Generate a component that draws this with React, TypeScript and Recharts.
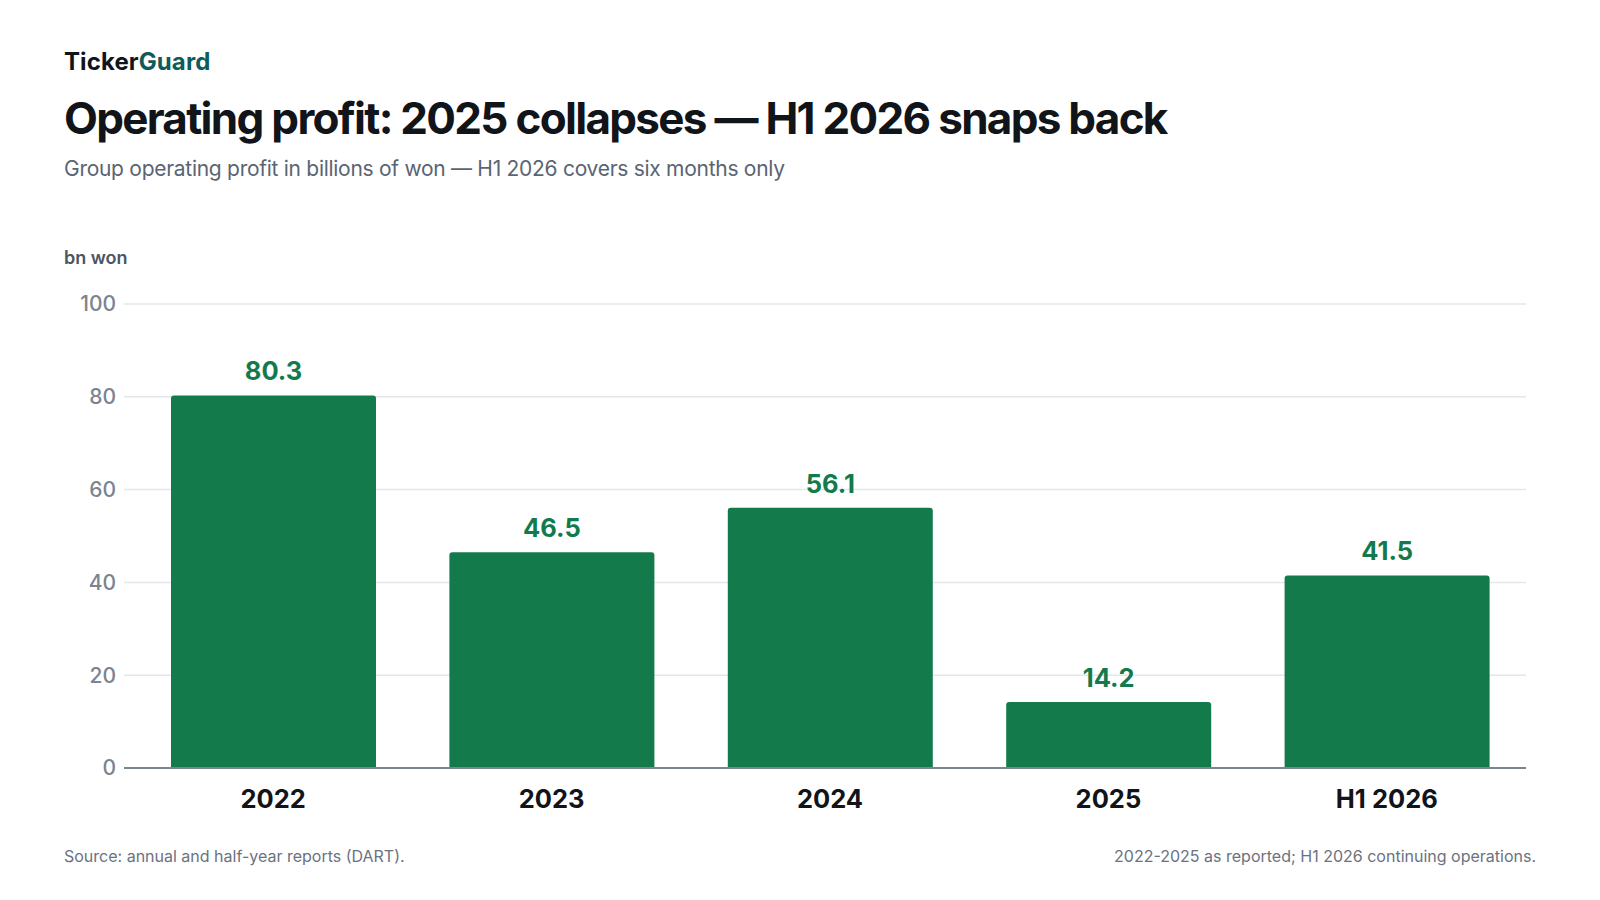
import { BarChart, Bar, XAxis, YAxis, CartesianGrid, LabelList } from "recharts";

const periods = ["2022", "2023", "2024", "2025", "H1 2026"];
const operatingProfit = [80.3, 46.5, 56.1, 14.2, 41.5];
const yTicks = [0, 20, 40, 60, 80, 100];

const data = periods.map((period, i) => ({
  period,
  profit: operatingProfit[i],
}));

const FONT = "Inter, 'Noto Sans', sans-serif";
const GREEN = "#137b4b";

export default function App() {
  return (
    <div
      style={{
        position: "absolute",
        left: 0,
        top: 0,
        width: 1600,
        height: 900,
        background: "#ffffff",
        fontFamily: FONT,
        overflow: "hidden",
      }}>
      <div
        style={{
          position: "absolute",
          left: 64,
          top: 50,
          fontSize: 24,
          lineHeight: 1,
          fontWeight: 700,
          letterSpacing: 0.1,
          color: "#111418",
        }}>
        Ticker<span style={{ color: "#0f5a5a" }}>Guard</span>
      </div>
      <div
        style={{
          position: "absolute",
          left: 64,
          top: 96,
          fontSize: 44,
          lineHeight: 1,
          fontWeight: 700,
          letterSpacing: -1.7,
          color: "#111418",
          whiteSpace: "nowrap",
        }}>
        Operating profit: 2025 collapses — H1 2026 snaps back
      </div>
      <div
        style={{
          position: "absolute",
          left: 64,
          top: 158,
          fontSize: 21,
          lineHeight: 1,
          letterSpacing: -0.28,
          color: "#5a6472",
          whiteSpace: "nowrap",
        }}>
        Group operating profit in billions of won — H1 2026 covers six months only
      </div>
      <div
        style={{
          position: "absolute",
          left: 64,
          top: 249,
          fontSize: 18,
          lineHeight: 1,
          fontWeight: 600,
          color: "#4b5563",
        }}>
        bn won
      </div>

      <div style={{ position: "absolute", left: 0, top: 0 }}>
        <BarChart
          width={1600}
          height={830}
          data={data}
          margin={{ top: 304, right: 74, bottom: 12, left: 0 }}>
          <CartesianGrid
            vertical={false}
            stroke="#e4e6ea"
            strokeWidth={1.5}
          />
          <XAxis
            dataKey="period"
            height={50}
            padding={{ left: 10, right: 0 }}
            axisLine={{ stroke: "#7b8490", strokeWidth: 2 }}
            tickLine={false}
            tickMargin={16}
            tick={{ fill: "#111418", fontSize: 25.5, fontWeight: 700 }}
          />
          <YAxis
            width={124}
            domain={[0, 100]}
            ticks={yTicks}
            axisLine={false}
            tickLine={false}
            tick={{ fill: "#7b8490", fontSize: 21, fontWeight: 500 }}
          />
          <Bar
            dataKey="profit"
            fill={GREEN}
            barSize={205}
            radius={[3, 3, 0, 0]}
            isAnimationActive={false}>
            <LabelList
              dataKey="profit"
              position="top"
              offset={15}
              formatter={(v: number) => v.toFixed(1)}
              style={{ fill: GREEN, fontSize: 25.5, fontWeight: 700 }}
            />
          </Bar>
        </BarChart>
      </div>

      <div
        style={{
          position: "absolute",
          left: 64,
          top: 848,
          fontSize: 16,
          lineHeight: 1,
          color: "#6b7280",
        }}>
        Source: annual and half-year reports (DART).
      </div>
      <div
        style={{
          position: "absolute",
          right: 64,
          top: 848,
          fontSize: 16,
          lineHeight: 1,
          color: "#6b7280",
          textAlign: "right",
        }}>
        2022-2025 as reported; H1 2026 continuing operations.
      </div>
    </div>
  );
}
